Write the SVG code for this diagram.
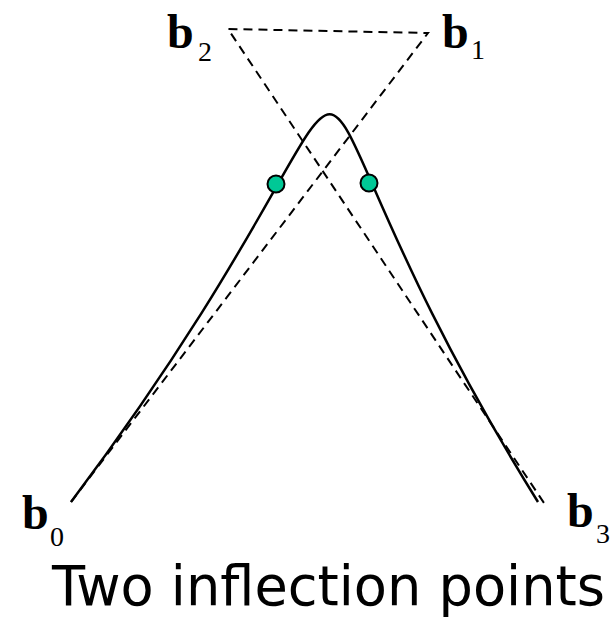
<svg xmlns="http://www.w3.org/2000/svg" width="612" height="622" viewBox="0 0 612 622">
<style>
.poly{fill:none;stroke:#000;stroke-width:2;stroke-dasharray:9 6}
.curve{fill:none;stroke:#000;stroke-width:2.5}
.dot{fill:#00C896;stroke:#000;stroke-width:2}
.b{font-family:"Liberation Serif",serif;font-weight:bold;font-size:48px;fill:#000}
.sub{font-family:"Liberation Serif",serif;font-size:28px;fill:#000}
.title{font-family:"DejaVu Sans","Liberation Sans",sans-serif;font-size:55px;fill:#000}
</style>
<rect width="612" height="622" fill="#fff"/>
<g id="connectors">
<path class="poly" d="M71,502 L428,33 L228,29 L546,506"/>
<path class="curve" d="M71,502 C459,-15 217,-15 538,502"/>
</g>
<g id="inflection1"><circle class="dot" cx="276" cy="184" r="8.5"/></g>
<g id="inflection2"><circle class="dot" cx="369" cy="183" r="8.5"/></g>
<g id="b0"><text class="b" x="22" y="529">b</text><text class="sub" x="50" y="546">0</text></g>
<g id="b1"><text class="b" x="442" y="48">b</text><text class="sub" x="471" y="59">1</text></g>
<g id="b2"><text class="b" x="167" y="48">b</text><text class="sub" x="198" y="61">2</text></g>
<g id="b3"><text class="b" x="567" y="527">b</text><text class="sub" x="596" y="543">3</text></g>
<g id="label"><text class="title" x="52" y="605" textLength="553" lengthAdjust="spacingAndGlyphs">Two inflection points</text></g>
</svg>
